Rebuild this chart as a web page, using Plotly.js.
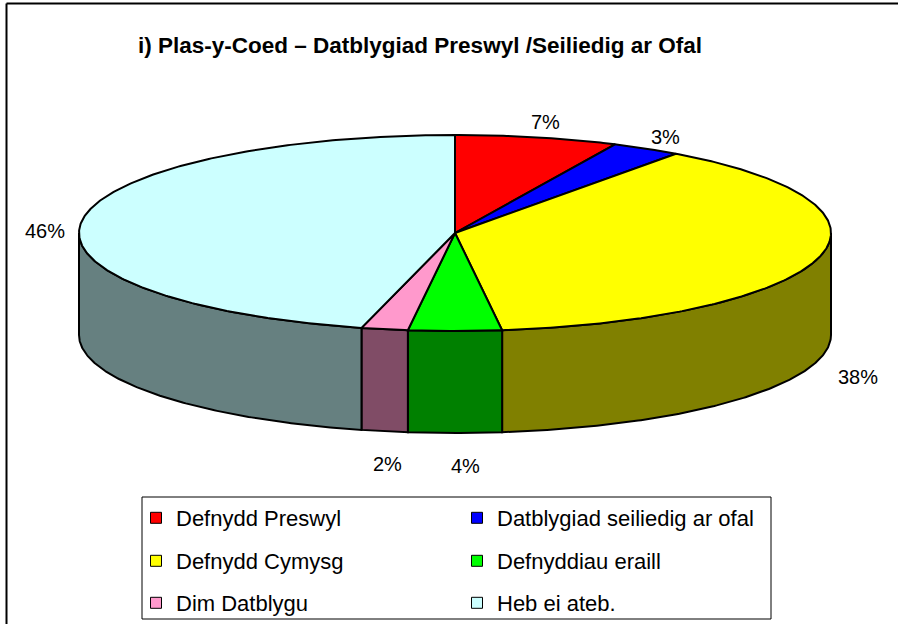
<!DOCTYPE html>
<html>
<head>
<meta charset="utf-8">
<script src="https://cdn.plot.ly/plotly-3.0.1.min.js"></script>
<style>html,body{margin:0;padding:0;background:#fff;}#chart{width:898px;height:624px;}</style>
</head>
<body>
<div id="chart"></div>
<script>
// ---- data ----
const categories = ["Defnydd Preswyl", "Datblygiad seiliedig ar ofal", "Defnydd Cymysg", "Defnyddiau eraill", "Dim Datblygu", "Heb ei ateb."];
const values = [7, 3, 38, 4, 2, 46];
const valueLabels = ["7%", "3%", "38%", "4%", "2%", "46%"];
const titleText = "i) Plas-y-Coed \u2013 Datblygiad Preswyl /Seiliedig ar Ofal";

// ---- styles ----
const topColors = ["#FF0000", "#0000FF", "#FFFF00", "#00FF00", "#FF99CC", "#CCFFFF"];
const sideColors = ["#800000", "#000080", "#808000", "#008000", "#804C66", "#668080"];
const FONT = "Liberation Sans, Arial, sans-serif";

// ---- geometry of the 3D pie (pixel space) ----
const W = 898, H = 624;
const CX = 455, CY = 233, RX = 376, RY = 98, DEPTH = 102;

function pt(deg, dy) {
  const t = deg * Math.PI / 180;
  return [CX + RX * Math.sin(t), CY - RY * Math.cos(t) + dy];
}
function arc(a, b, dy) {
  const pts = [];
  const n = Math.max(2, Math.ceil(Math.abs(b - a) / 0.5));
  for (let i = 0; i <= n; i++) pts.push(pt(a + (b - a) * i / n, dy));
  return pts;
}

const total = values.reduce((s, v) => s + v, 0);
const slices = [];
let acc = 0;
values.forEach((v, i) => {
  const a = acc / total * 360;
  acc += v;
  const b = acc / total * 360;
  slices.push({a, b, i});
});

const traces = [];
// side walls (front half: 90..270 degrees clockwise from top)
slices.forEach(s => {
  if (s.b > 90 && s.a < 270) {
    const st = Math.max(s.a, 90), en = Math.min(s.b, 270);
    const pts = arc(st, en, 0).concat(arc(en, st, DEPTH));
    pts.push(pts[0]);
    traces.push({
      type: "scatter", mode: "lines", fill: "toself",
      x: pts.map(p => p[0]), y: pts.map(p => p[1]),
      fillcolor: sideColors[s.i], line: {color: "#000", width: 2},
      hoverinfo: "skip", showlegend: false
    });
  }
});
// tops
slices.forEach(s => {
  const pts = [[CX, CY]].concat(arc(s.a, s.b, 0));
  pts.push([CX, CY]);
  traces.push({
    type: "scatter", mode: "lines", fill: "toself",
    x: pts.map(p => p[0]), y: pts.map(p => p[1]),
    fillcolor: topColors[s.i], line: {color: "#000", width: 2},
    hoverinfo: "skip", showlegend: false, name: categories[s.i]
  });
});
// legend entries
const legendIds = ["legend", "legend", "legend2", "legend2", "legend3", "legend3"];
categories.forEach((c, i) => {
  traces.push({
    type: "scatter", mode: "markers", x: [null], y: [null], name: c,
    marker: {symbol: "square", size: 11, color: topColors[i], line: {color: "#000", width: 1}},
    legend: legendIds[i], showlegend: true, hoverinfo: "skip"
  });
});

// percentage labels
const annotations = slices.map(s => {
  const mid = (s.a + s.b) / 2;
  const t = mid * Math.PI / 180;
  const sn = Math.sin(t), cs = Math.cos(t);
  let x = CX + 1.1 * RX * sn;
  let y;
  if (cs < 0) {
    y = CY + DEPTH + (RY + 33) * (-cs) + 13 * (1 + cs);
    x += 10 * (-cs);
  } else {
    y = CY - (RY + 16) * cs + 14 * (1 - cs);
  }
  return {
    x: x, y: y, xref: "x", yref: "y", text: valueLabels[s.i], showarrow: false,
    font: {family: FONT, size: 20, color: "#000"}, xanchor: "center", yanchor: "middle"
  };
});

const legendRow = (yc) => ({
  orientation: "h", x: 136 / W, xanchor: "left", y: 1 - yc / H, yanchor: "middle",
  entrywidth: 276, entrywidthmode: "pixels", bgcolor: "rgba(0,0,0,0)", borderwidth: 0,
  font: {family: FONT, size: 22, color: "#000"}, traceorder: "normal"
});

const layout = {
  width: W, height: H,
  margin: {l: 0, r: 0, t: 0, b: 0},
  paper_bgcolor: "#fff", plot_bgcolor: "#fff",
  font: {family: FONT, color: "#000"},
  title: {
    text: "<b>" + titleText + "</b>", font: {family: FONT, size: 22.5, color: "#000"},
    x: 420 / W, xref: "paper", xanchor: "center", y: 1 - 45 / H, yref: "container", yanchor: "middle"
  },
  xaxis: {range: [0, W], visible: false, fixedrange: true, showgrid: false, zeroline: false},
  yaxis: {range: [H, 0], visible: false, fixedrange: true, showgrid: false, zeroline: false},
  showlegend: true,
  legend: legendRow(518),
  legend2: legendRow(561),
  legend3: legendRow(603),
  annotations: annotations,
  shapes: [
    {type: "line", xref: "paper", yref: "paper", x0: 6.5 / W, x1: 1, y0: 1 - 3.5 / H, y1: 1 - 3.5 / H, line: {color: "#000", width: 2}},
    {type: "line", xref: "paper", yref: "paper", x0: 6.5 / W, x1: 6.5 / W, y0: 1 - 3.5 / H, y1: 0, line: {color: "#000", width: 2}},
    {type: "rect", xref: "paper", yref: "paper", x0: 142 / W, x1: 771 / W, y0: 1 - 497 / H, y1: 1 - 619 / H, line: {color: "#000", width: 1}}
  ]
};

Plotly.newPlot("chart", traces, layout, {displayModeBar: false, staticPlot: true});
</script>
</body>
</html>
